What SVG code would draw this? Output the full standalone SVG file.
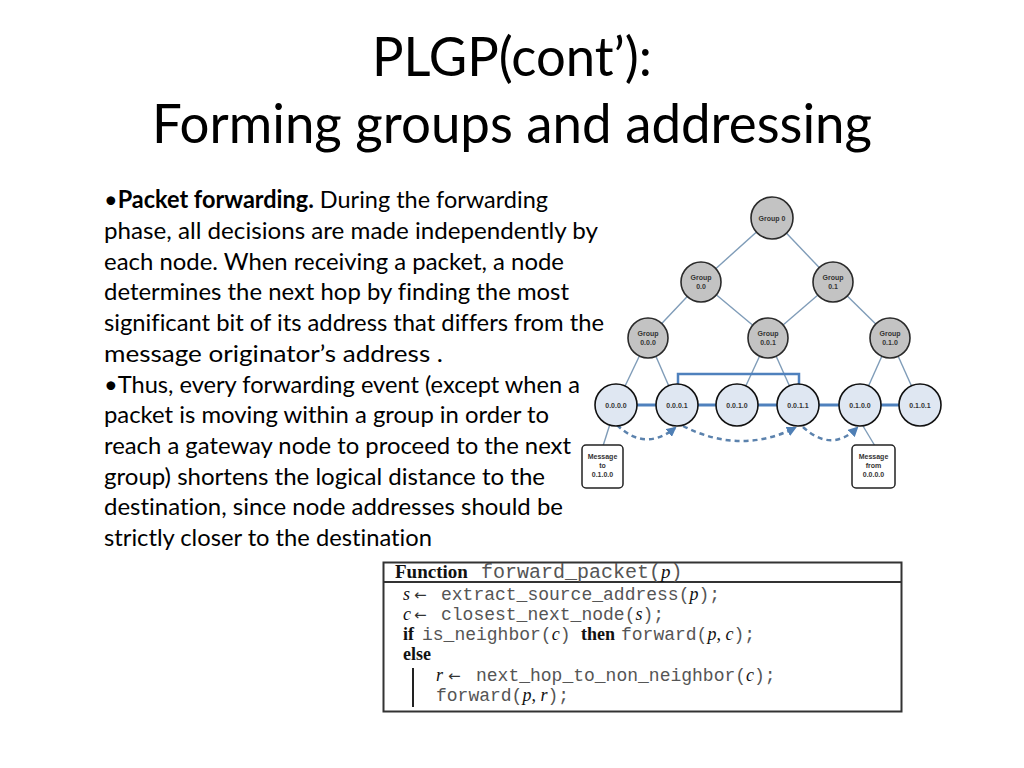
<svg xmlns="http://www.w3.org/2000/svg" width="1024" height="768" viewBox="0 0 1024 768">
<style>
text{font-variant-ligatures:none;font-feature-settings:"liga" 0,"clig" 0,"dlig" 0}
.title{font-family:"Lato","Liberation Sans",sans-serif;font-size:54px;fill:#000}
.body{font-family:"Lato","Liberation Sans",sans-serif;font-size:24px;fill:#000}
.tree{stroke:#7f9cb8;stroke-width:1.4;fill:none}
.grp{fill:#c3c3c3;stroke:#2a2a2a;stroke-width:1.6}
.leaf{fill:#dfe7f2;stroke:#111;stroke-width:1.6}
.lbl{font-family:"Liberation Sans",sans-serif;font-size:7px;font-weight:bold;fill:#333;text-anchor:middle}
.msg{fill:#fff;stroke:#222;stroke-width:1.5}
.mono{font-family:"Liberation Mono",monospace;fill:#555}
.ser{font-family:"Liberation Serif",serif;fill:#111}
.arr{font-family:"DejaVu Sans",sans-serif;fill:#333;font-size:15px}
.it{font-style:italic}
.bd{font-weight:bold}
</style>
<defs>
<marker id="ah" viewBox="0 0 10 10" refX="8" refY="5" markerWidth="4" markerHeight="4" orient="auto">
<path d="M0,0 L10,5 L0,10 z" fill="#4f7fb5"/>
</marker>
</defs>
<rect width="1024" height="768" fill="#fff"/>

<g id="title">
<text class="title" x="372" y="76" textLength="280" lengthAdjust="spacingAndGlyphs">PLGP(cont’):</text>
<text class="title" x="152" y="143" textLength="720" lengthAdjust="spacingAndGlyphs">Forming groups and addressing</text>
</g>

<g id="bodytext" class="body">
<text x="104" y="208" textLength="444" lengthAdjust="spacingAndGlyphs">•<tspan font-weight="bold">Packet forwarding.</tspan> During the forwarding</text>
<text x="104" y="239" textLength="494" lengthAdjust="spacingAndGlyphs">phase, all decisions are made independently by</text>
<text x="104" y="270" textLength="460" lengthAdjust="spacingAndGlyphs">each node. When receiving a packet, a node</text>
<text x="104" y="300" textLength="465" lengthAdjust="spacingAndGlyphs">determines the next hop by finding the most</text>
<text x="104" y="331" textLength="500" lengthAdjust="spacingAndGlyphs">significant bit of its address that differs from the</text>
<text x="104" y="362" textLength="339" lengthAdjust="spacingAndGlyphs">message originator’s address .</text>
<text x="104" y="393" textLength="476" lengthAdjust="spacingAndGlyphs">•Thus, every forwarding event (except when a</text>
<text x="104" y="423" textLength="445" lengthAdjust="spacingAndGlyphs">packet is moving within a group in order to</text>
<text x="104" y="454" textLength="467" lengthAdjust="spacingAndGlyphs">reach a gateway node to proceed to the next</text>
<text x="104" y="485" textLength="441" lengthAdjust="spacingAndGlyphs">group) shortens the logical distance to the</text>
<text x="104" y="515" textLength="459" lengthAdjust="spacingAndGlyphs">destination, since node addresses should be</text>
<text x="104" y="546" textLength="328" lengthAdjust="spacingAndGlyphs">strictly closer to the destination</text>
</g>

<g id="connectors">
<line class="tree" x1="772" y1="218" x2="701" y2="282"/>
<line class="tree" x1="772" y1="218" x2="833" y2="282"/>
<line class="tree" x1="701" y1="282" x2="648" y2="338"/>
<line class="tree" x1="701" y1="282" x2="768" y2="338"/>
<line class="tree" x1="833" y1="282" x2="768" y2="338"/>
<line class="tree" x1="833" y1="282" x2="890" y2="338"/>
<line class="tree" x1="648" y1="338" x2="616" y2="405"/>
<line class="tree" x1="648" y1="338" x2="677" y2="405"/>
<line class="tree" x1="768" y1="338" x2="737" y2="405"/>
<line class="tree" x1="768" y1="338" x2="798" y2="405"/>
<line class="tree" x1="890" y1="338" x2="860" y2="405"/>
<line class="tree" x1="890" y1="338" x2="920" y2="405"/>
<line x1="616" y1="405" x2="920" y2="405" stroke="#4f81bd" stroke-width="3"/>
<path d="M678,386 V374 H799 V386" fill="none" stroke="#4f81bd" stroke-width="2.5"/>
<line class="tree" x1="603" y1="446" x2="610" y2="424"/>
<line class="tree" x1="875" y1="446" x2="863" y2="426"/>
<path d="M617,425 Q645,452 675,428" fill="none" stroke="#5b82ad" stroke-width="2.5" stroke-dasharray="5,4" marker-end="url(#ah)"/>
<path d="M683,426 Q740,455 795,428" fill="none" stroke="#5b82ad" stroke-width="2.5" stroke-dasharray="5,4" marker-end="url(#ah)"/>
<path d="M803,427 Q831,453 857,428" fill="none" stroke="#5b82ad" stroke-width="2.5" stroke-dasharray="5,4" marker-end="url(#ah)"/>
</g>

<g id="g0"><circle class="grp" cx="772" cy="218" r="21"/><text class="lbl" x="772" y="221">Group 0</text></g>
<g id="g00"><circle class="grp" cx="701" cy="282" r="20"/><text class="lbl" x="701" y="280">Group</text><text class="lbl" x="701" y="289">0.0</text></g>
<g id="g01"><circle class="grp" cx="833" cy="282" r="20"/><text class="lbl" x="833" y="280">Group</text><text class="lbl" x="833" y="289">0.1</text></g>
<g id="g000"><circle class="grp" cx="648" cy="338" r="20"/><text class="lbl" x="648" y="336">Group</text><text class="lbl" x="648" y="345">0.0.0</text></g>
<g id="g001"><circle class="grp" cx="768" cy="338" r="20"/><text class="lbl" x="768" y="336">Group</text><text class="lbl" x="768" y="345">0.0.1</text></g>
<g id="g010"><circle class="grp" cx="890" cy="338" r="20"/><text class="lbl" x="890" y="336">Group</text><text class="lbl" x="890" y="345">0.1.0</text></g>

<g id="n0000"><circle class="leaf" cx="616" cy="405" r="21"/><text class="lbl" x="616" y="408">0.0.0.0</text></g>
<g id="n0001"><circle class="leaf" cx="677" cy="405" r="21"/><text class="lbl" x="677" y="408">0.0.0.1</text></g>
<g id="n0010"><circle class="leaf" cx="737" cy="405" r="21"/><text class="lbl" x="737" y="408">0.0.1.0</text></g>
<g id="n0011"><circle class="leaf" cx="798" cy="405" r="21"/><text class="lbl" x="798" y="408">0.0.1.1</text></g>
<g id="n0100"><circle class="leaf" cx="860" cy="405" r="21"/><text class="lbl" x="860" y="408">0.1.0.0</text></g>
<g id="n0101"><circle class="leaf" cx="920" cy="405" r="21"/><text class="lbl" x="920" y="408">0.1.0.1</text></g>

<g id="msgto"><rect class="msg" x="582" y="445" width="41" height="43" rx="4"/>
<text class="lbl" x="602.5" y="459" fill="#222">Message</text><text class="lbl" x="602.5" y="468" font-weight="normal">to</text><text class="lbl" x="602.5" y="477" font-weight="normal">0.1.0.0</text></g>
<g id="msgfrom"><rect class="msg" x="852" y="445" width="43" height="43" rx="4"/>
<text class="lbl" x="873.5" y="459" fill="#222">Message</text><text class="lbl" x="873.5" y="468" font-weight="normal">from</text><text class="lbl" x="873.5" y="477" font-weight="normal">0.0.0.0</text></g>

<g id="function">
<rect x="383.5" y="562.5" width="518" height="149" fill="#fff" stroke="#333" stroke-width="2"/>
<line x1="383.5" y1="582" x2="901.5" y2="582" stroke="#333" stroke-width="2"/>
<text x="395" y="578"><tspan class="ser bd" font-size="19">Function</tspan><tspan class="mono" x="481" font-size="20">forward_packet(</tspan><tspan class="ser it" font-size="19">p</tspan><tspan class="mono" font-size="20">)</tspan></text>
<text y="600" font-size="18"><tspan class="ser it" x="403">s</tspan><tspan class="arr" x="414">←</tspan><tspan class="mono" x="441">extract_source_address(</tspan><tspan class="ser it">p</tspan><tspan class="mono">);</tspan></text>
<text y="620" font-size="18"><tspan class="ser it" x="403">c</tspan><tspan class="arr" x="414">←</tspan><tspan class="mono" x="441">closest_next_node(</tspan><tspan class="ser it">s</tspan><tspan class="mono">);</tspan></text>
<text y="640" font-size="18"><tspan class="ser bd" x="403">if</tspan><tspan class="mono" x="422">is_neighbor(</tspan><tspan class="ser it">c</tspan><tspan class="mono">)</tspan><tspan class="ser bd" x="581">then</tspan><tspan class="mono" x="621">forward(</tspan><tspan class="ser it">p</tspan><tspan class="ser">, </tspan><tspan class="ser it">c</tspan><tspan class="mono">);</tspan></text>
<text y="660" font-size="18"><tspan class="ser bd" x="403">else</tspan></text>
<line x1="413" y1="668" x2="413" y2="707" stroke="#222" stroke-width="2"/>
<text y="681" font-size="18"><tspan class="ser it" x="436">r</tspan><tspan class="arr" x="448">←</tspan><tspan class="mono" x="476">next_hop_to_non_neighbor(</tspan><tspan class="ser it">c</tspan><tspan class="mono">);</tspan></text>
<text y="701" font-size="18"><tspan class="mono" x="436">forward(</tspan><tspan class="ser it">p</tspan><tspan class="ser">, </tspan><tspan class="ser it">r</tspan><tspan class="mono">);</tspan></text>
</g>
</svg>
